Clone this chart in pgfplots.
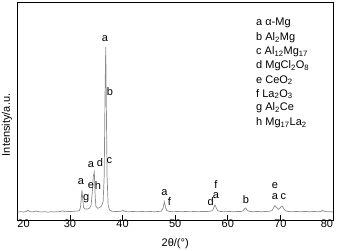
\documentclass[border=0pt]{standalone}
\usepackage{pgfplots}
\pgfplotsset{compat=1.18}
\usepackage{fontspec}
\setmainfont{Liberation Sans}
\begin{document}
\begin{tikzpicture}
\useasboundingbox (0,0) rectangle (343bp,251bp);
\begin{axis}[
  at={(17.4bp,31bp)}, anchor=south west,
  scale only axis, width=315.6bp, height=218bp,
  xmin=20, xmax=80, ymin=0, ymax=100,
  xtick={20,30,40,50,60,70,80},
  xticklabels={\hphantom{00}20,30,40,50,60,70,80\hphantom{00}},
  ytick=\empty,
  tick align=inside, xtick pos=bottom,
  major tick length=5bp,
  axis line style={line width=0.9bp},
  every tick/.style={black, line width=0.8bp},
  font=\fontsize{11bp}{13bp}\selectfont,
  /pgf/number format/assume math mode=true,
  xlabel={2θ/(°)},
  ylabel={Intensity/a.u.},
  xlabel style={at={(rel axis cs:0.5,0)}, anchor=center, yshift=-24bp},
  ylabel style={at={(rel axis cs:0,0.436)}, anchor=center, yshift=10.4bp},
  clip=false,
]
\addplot[gray!90, line width=0.7bp] coordinates {
(20,3.6) (20.6,3.8) (21.2,3.7) (21.7,3.9) (22.0,4.6) (22.3,3.9) (22.8,3.7)
(23.3,3.9) (23.6,4.1) (24.0,3.8) (24.6,3.7) (25.2,3.8) (25.8,3.6) (26.4,3.8)
(27.0,3.7) (27.6,3.8) (28.2,3.9) (28.6,4.2) (29.0,3.8) (29.6,3.9) (30.2,3.9)
(30.8,4.0) (31.4,4.1) (31.8,4.3) (32.0,6.0) (32.15,10.0) (32.28,13.8) (32.42,9.5)
(32.58,5.8) (32.9,5.0) (33.3,5.0) (33.7,5.4) (34.0,6.5) (34.25,13) (34.42,20) (34.62,22)
(34.75,13) (34.9,6.5) (35.2,5.4) (35.6,5.6) (36.0,6.5) (36.3,8.5) (36.5,20)
(36.65,55) (36.79,79.4) (36.92,50) (37.05,20) (37.25,7) (37.5,4.6) (38.0,4.0)
(38.6,3.9) (39.2,3.9) (39.8,4.1) (40.1,4.4) (40.5,3.9) (41.2,3.8) (42.0,3.9)
(42.8,3.8) (43.6,3.9) (44.4,3.8) (45.2,3.9) (46.0,3.8) (46.8,3.9) (47.4,4.1)
(47.7,5.5) (47.93,8.4) (48.15,6.0) (48.4,4.3) (48.9,3.9) (49.6,3.8) (50.4,3.9)
(51.2,3.8) (52.0,3.9) (52.8,3.8) (53.6,3.9) (54.4,3.8) (55.2,3.9) (56.0,3.9)
(56.6,4.0) (57.1,4.3) (57.35,5.8) (57.57,6.9) (57.8,5.6) (58.1,4.3) (58.6,3.9)
(59.4,3.8) (60.2,3.9) (61.0,3.8) (61.8,3.9) (62.5,3.9) (62.9,4.2) (63.2,5.2)
(63.4,5.5) (63.65,4.6) (64.0,4.0) (64.8,3.8) (65.6,3.9) (66.4,3.8) (67.2,3.9)
(67.9,4.0) (68.4,4.3) (68.75,5.8) (68.97,6.6) (69.25,5.8) (69.6,4.9) (69.9,5.4)
(70.15,6.2) (70.3,6.4) (70.55,5.6) (70.9,4.3) (71.5,3.9) (72.3,3.8) (73.1,3.9)
(73.9,3.8) (74.7,3.9) (75.5,3.8) (76.3,3.9) (77.1,3.8) (77.7,3.9) (78.0,4.4)
(78.3,4.0) (78.8,3.8) (79.4,3.8) (80,3.7)
};
\tikzset{every node/.style={inner sep=0pt, font=\fontsize{11bp}{13bp}\selectfont}}
% peak labels
\node at (axis cs:36.65,83.3) {a};
\node at (axis cs:37.6,58.9) {b};
\node at (axis cs:34.0,25.2) {a};
\node at (axis cs:35.7,26.3) {d};
\node at (axis cs:37.47,27.1) {c};
\node at (axis cs:34.0,15.8) {e};
\node at (axis cs:35.3,15.6) {h};
\node at (axis cs:32.09,17.8) {a};
\node at (axis cs:33.1,10.0) {g};
\node at (axis cs:47.93,12.4) {a};
\node at (axis cs:48.88,8.3) {f};
\node at (axis cs:57.76,16.1) {f};
\node at (axis cs:57.76,11.0) {a};
\node at (axis cs:56.75,8.3) {d};
\node at (axis cs:63.46,9.2) {b};
\node at (axis cs:68.97,15.6) {e};
\node at (axis cs:68.97,10.6) {a};
\node at (axis cs:70.55,10.6) {c};
% legend text
\node[anchor=west] at (axis cs:65.36,90.4) {a α-Mg};
\node[anchor=west] at (axis cs:65.36,83.5) {b Al\textsubscript{2}Mg};
\node[anchor=west] at (axis cs:65.36,77.1) {c Al\textsubscript{12}Mg\textsubscript{17}};
\node[anchor=west] at (axis cs:65.36,70.6) {d MgCl\textsubscript{2}O\textsubscript{8}};
\node[anchor=west] at (axis cs:65.36,64.2) {e CeO\textsubscript{2}};
\node[anchor=west] at (axis cs:65.36,57.8) {f La\textsubscript{2}O\textsubscript{3}};
\node[anchor=west] at (axis cs:65.36,51.4) {g Al\textsubscript{2}Ce};
\node[anchor=west] at (axis cs:65.36,44.5) {h Mg\textsubscript{17}La\textsubscript{2}};
\end{axis}
\end{tikzpicture}
\end{document}
